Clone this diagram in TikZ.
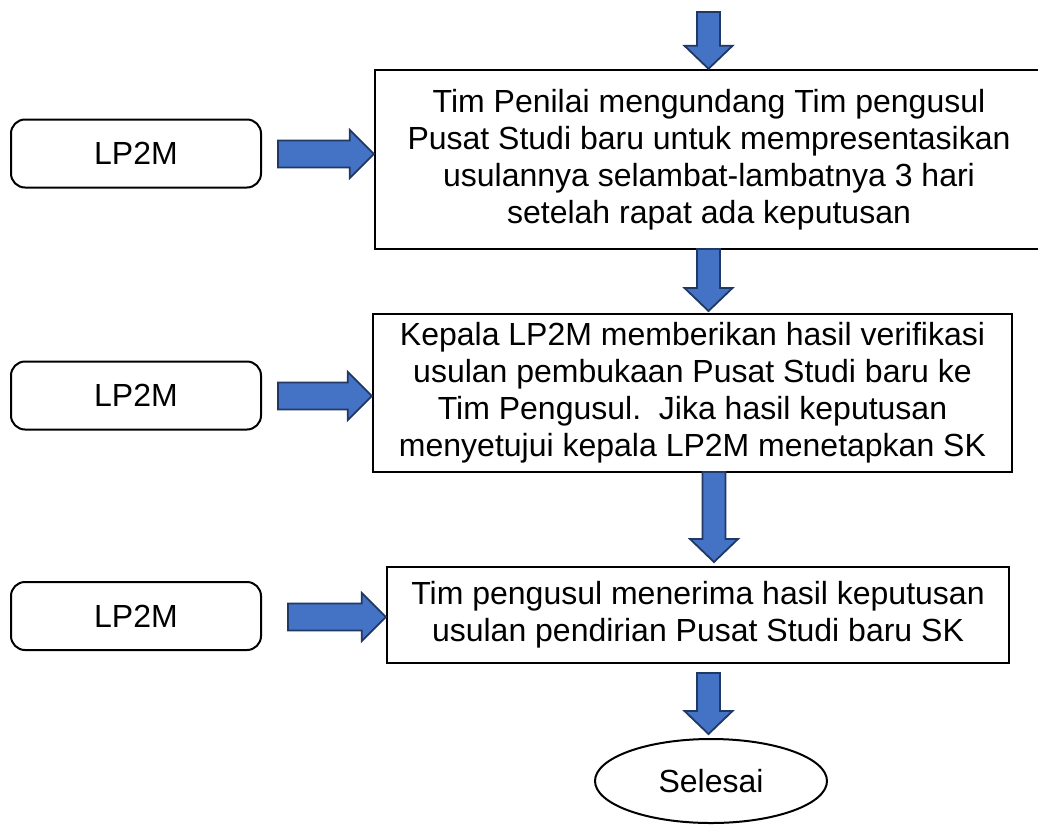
\documentclass[tikz,border=0pt]{standalone}
\usepackage{fontspec}
\setmainfont{Liberation Sans}
\usetikzlibrary{calc,shapes.geometric}
\definecolor{arrfill}{HTML}{4472C4}
\definecolor{arrline}{HTML}{203864}
\tikzset{
  procbox/.style={draw=black, line width=2.4pt, rectangle, align=center, inner sep=0pt,
    font=\fontsize{32}{37}\selectfont},
  unitbox/.style={draw=black, line width=2pt, rectangle, rounded corners=14pt, align=center,
    minimum width=250pt, minimum height=68pt, inner sep=0pt, font=\fontsize{32}{37}\selectfont},
  endbox/.style={draw=black, line width=2pt, ellipse, minimum width=232pt, minimum height=84pt,
    inner sep=0pt, font=\fontsize{32}{37}\selectfont},
  blk/.style={fill=arrfill, draw=arrline, line width=1.8pt, line join=miter}
}
\newcommand\dblock[2]{%
  \draw[blk] let \p1=(#1), \p2=(#2) in
    ($(\x1-11.5pt,\y1)$) -- ($(\x1+11.5pt,\y1)$) -- ($(\x1+11.5pt,\y2+23pt)$) -- ($(\x1+24pt,\y2+23pt)$)
    -- (\x1,\y2) -- ($(\x1-24pt,\y2+23pt)$) -- ($(\x1-11.5pt,\y2+23pt)$) -- cycle;}
\newcommand\rblock[2]{%
  \draw[blk] let \p1=(#1), \p2=(#2) in
    ($(\x1,\y1+13.5pt)$) -- ($(\x2-24pt,\y1+13.5pt)$) -- ($(\x2-24pt,\y1+24pt)$) -- (\x2,\y1)
    -- ($(\x2-24pt,\y1-24pt)$) -- ($(\x2-24pt,\y1-13.5pt)$) -- ($(\x1,\y1-13.5pt)$) -- cycle;}
\begin{document}
\begin{tikzpicture}[x=1pt,y=-1pt]
\useasboundingbox (0,0) rectangle (1038,827);
% process boxes
\node[procbox, minimum width=668pt, minimum height=179pt] (b1) at (709,159.5)
  {Tim Penilai mengundang Tim pengusul\\Pusat Studi baru untuk mempresentasikan\\usulannya selambat-lambatnya 3 hari\\setelah rapat ada keputusan};
\node[procbox, minimum width=639pt, minimum height=158pt] (b2) at (692.5,393)
  {Kepala LP2M memberikan hasil verifikasi\\usulan pembukaan Pusat Studi baru ke\\Tim Pengusul.\ \ Jika hasil keputusan\\menyetujui kepala LP2M menetapkan SK};
\node[procbox, minimum width=622pt, minimum height=96pt] (b3) at (698,615)
  {Tim pengusul menerima hasil keputusan\\usulan pendirian Pusat Studi baru SK};
\node[endbox] (e) at (711,781) {Selesai};
% unit boxes
\node[unitbox] (u1) at (136,153.5) {LP2M};
\node[unitbox] (u2) at (136,395.5) {LP2M};
\node[unitbox] (u3) at (136,616) {LP2M};
% coordinates for arrows
\coordinate (t0) at (708.5,12);
\coordinate (a1s) at (708.5,249);
\coordinate (a1e) at (708.5,311);
\coordinate (a2s) at (714,472);
\coordinate (a2e) at (714,562);
\coordinate (a3s) at (708.5,673);
\coordinate (a3e) at (708.5,734);
\coordinate (r1) at (278,154);
\coordinate (r2) at (278,396);
\coordinate (r3) at (288,617);
\dblock{t0}{b1.north -| t0}
\dblock{a1s}{a1e}
\dblock{a2s}{a2e}
\dblock{a3s}{a3e}
\rblock{r1}{r1 -| b1.west}
\rblock{r2}{r2 -| b2.west}
\rblock{r3}{r3 -| b3.west}
\end{tikzpicture}
\end{document}
